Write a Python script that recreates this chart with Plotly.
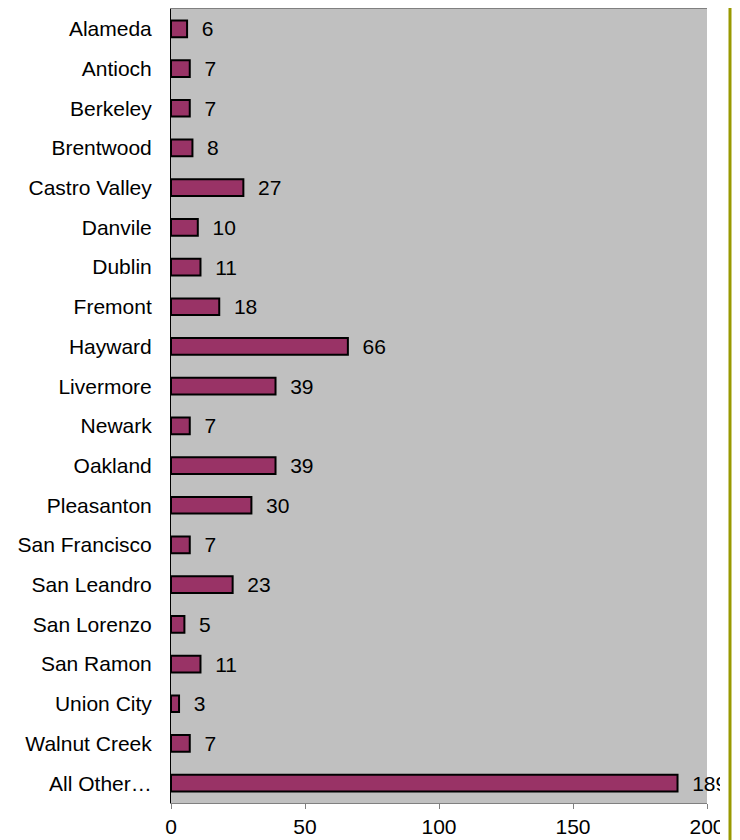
import plotly.graph_objects as go

cities = ["Alameda", "Antioch", "Berkeley", "Brentwood", "Castro Valley", "Danvile",
          "Dublin", "Fremont", "Hayward", "Livermore", "Newark", "Oakland",
          "Pleasanton", "San Francisco", "San Leandro", "San Lorenzo", "San Ramon",
          "Union City", "Walnut Creek", "All Other\u2026"]
counts = [6, 7, 7, 8, 27, 10, 11, 18, 66, 39, 7, 39, 30, 7, 23, 5, 11, 3, 7, 189]
x_ticks = [0, 50, 100, 150, 200]

W, H = 732, 832
L, R, T, B = 163, 33, 1, 37
pw = W - L - R

fig = go.Figure()
fig.add_trace(go.Bar(
    x=counts, y=cities, orientation="h",
    marker=dict(color="#993366", line=dict(color="black", width=2)),
    text=["\u00a0\u00a0" + str(v) for v in counts], textposition="outside",
    constraintext="none",
    textfont=dict(family="Liberation Sans, Arial", size=21, color="black"),
    cliponaxis=False,
))

fig.update_layout(
    width=W, height=H,
    margin=dict(l=L, r=R, t=T, b=B),
    paper_bgcolor="white", plot_bgcolor="#C0C0C0",
    bargap=0.58, showlegend=False,
    font=dict(family="Liberation Sans, Arial", size=21, color="black"),
)
fig.update_xaxes(range=[0, 200], tickvals=x_ticks, showgrid=False, zeroline=False,
                 ticks="outside", ticklen=5, tickcolor="#808080",
                 showline=True, linecolor="#808080", linewidth=1, mirror=True,
                 tickfont=dict(size=21))
fig.update_yaxes(autorange="reversed", showgrid=False, zeroline=False,
                 ticks="outside", ticklen=14, tickcolor="rgba(0,0,0,0)",
                 showline=True, linecolor="black", linewidth=1,
                 tickfont=dict(size=21))
# clip region and green border line on the right
fig.add_shape(type="rect", xref="paper", yref="paper",
              x0=(712 - L) / pw, x1=(W - L) / pw, y0=-0.1, y1=1.1,
              fillcolor="white", line=dict(width=0), layer="above")
fig.add_shape(type="line", xref="paper", yref="paper",
              x0=(722 - L) / pw, x1=(722 - L) / pw, y0=-0.1, y1=1.1,
              line=dict(color="#999900", width=3), layer="above")
fig.write_html("out.html")
